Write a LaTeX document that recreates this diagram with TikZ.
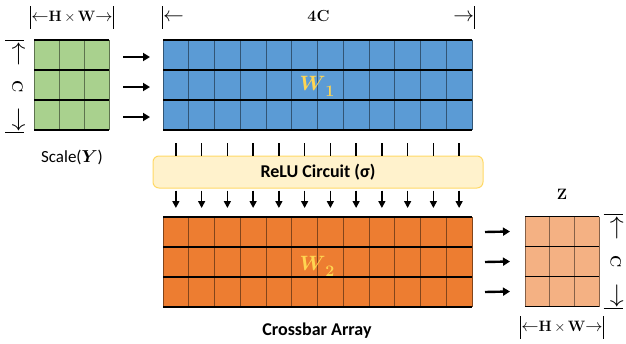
\documentclass[tikz,border=0pt]{standalone}
\usepackage{amsmath, amssymb}
\usepackage{bm}
\usepackage{fontspec}
\newfontfamily\carlito{Carlito}
\usepackage{xcolor}
\definecolor{cellgreen}{HTML}{A9D18E}
\definecolor{cellblue}{HTML}{5B9BD5}
\definecolor{cellorange}{HTML}{ED7D31}
\definecolor{cellsalmon}{HTML}{F4B183}
\definecolor{relufill}{HTML}{FFF2CC}
\definecolor{reluedge}{HTML}{FFD966}
\definecolor{weightgold}{HTML}{FFD551}
\usetikzlibrary{arrows.meta,positioning,calc}
% |<- label ->| spanning a given width, arrows at a given size
\newcommand{\spanlab}[4][23pt]{\makebox[#2]{\rule[-7pt]{1pt}{#1}{\fontsize{#4}{#4}\selectfont$\leftarrow$}\hfill#3\hfill{\fontsize{#4}{#4}\selectfont$\rightarrow$}\rule[-7pt]{1pt}{#1}}}

\begin{document}
\begin{tikzpicture}[x=1pt, y=-1pt,
  every node/.style={inner sep=0pt},
  cells/.style={rectangle, inner sep=0pt, outer sep=0pt, fill=#1, minimum height=90},
  colline/.style={line width=0.8pt},
  rowline/.style={line width=1.3pt, black},
  relubox/.style={rectangle, rounded corners=6pt, draw=reluedge, line width=1pt, fill=relufill, minimum width=330, minimum height=32, font=\carlito\fontsize{18}{20}\selectfont\bfseries},
  tick/.style={line width=1.4pt},
  drop/.style={-{Triangle[length=7pt, width=7pt]}, line width=1.5pt, shorten <=2pt, shorten >=9pt},
  feed/.style={-{Triangle[length=7pt, width=8pt]}, line width=2.4pt},
  dimlab/.style={font=\fontsize{15}{17}\selectfont\bfseries},
  wlab/.style={text=weightgold, font=\fontsize{20}{22}\selectfont},
]
  \useasboundingbox (0,0) rectangle (626,343);

  % cell arrays
  \node[cells=cellgreen, minimum width=75]   (inY)  at (71.5,85)  {};
  \node[cells=cellblue, minimum width=309]   (wone) at (317.5,85) {};
  \node[cells=cellorange, minimum width=309] (wtwo) at (317.5,262) {};
  \node[cells=cellsalmon, minimum width=74]  (outZ) at (562,261.5) {};
  \foreach \g/\n/\c in {inY/3/cellgreen, wone/12/cellblue, wtwo/12/cellorange, outZ/3/cellsalmon} {
    \foreach \k in {0,...,\n}
      \draw[colline, draw=\c!55!black] ($(\g.north west)!\k/\n!(\g.north east)$) -- ($(\g.south west)!\k/\n!(\g.south east)$);
    \foreach \k in {0,...,3}
      \draw[rowline] ($(\g.north west)!\k/3!(\g.south west)$) -- ($(\g.north east)!\k/3!(\g.south east)$);
  }
  \node[wlab] (wonelab) at (317,86)  {$\bm{W}$\raisebox{-6pt}{\fontsize{16}{18}\selectfont\bfseries 1}};
  \node[wlab] (wtwolab) at (317,266) {$\bm{W}$\raisebox{-6pt}{\fontsize{16}{18}\selectfont\bfseries 2}};

  % relu stage
  \node[relubox] (relu) at (318,172) {ReLU Circuit (σ)};
  \foreach \i in {1,...,12} {
    \coordinate (t\i) at ($(wone.south west)!{(\i-0.5)/12}!(wone.south east) + (0,13)$);
    \coordinate (b\i) at (t\i |- relu.south);
    \draw[tick] (t\i) -- (t\i |- relu.north);
    \draw[drop] (b\i) -- (b\i |- wtwo.north);
  }

  % feeds
  \foreach \r in {1,2,3} {
    \draw[feed] ($(inY.north east)!{(\r-0.5)/3}!(inY.south east) + (14,2)$) -- ($(wone.north west)!{(\r-0.5)/3}!(wone.south west) + (-13,2)$);
    \draw[feed] ($(wtwo.north east)!{(\r-0.5)/3}!(wtwo.south east) + (13,0)$) -- ($(outZ.north west)!{(\r-0.5)/3}!(outZ.south west) + (-15,0)$);
  }

  % dimensions and labels
  \node[dimlab] (hwin)  at (72,17)     {\spanlab{79pt}{H$\,\times\,$W}{16}};
  \node[dimlab] (fourc) at (318.5,17)  {\spanlab{313pt}{\fontsize{16}{18}\selectfont 4C}{20.74}};
  \node[dimlab, rotate=-90] (cin)  at (15,86.5)  {\spanlab[19pt]{93pt}{C}{24}};
  \node[dimlab, rotate=-90] (cout) at (613,261.5) {\spanlab[19pt]{95pt}{C}{24}};
  \node[dimlab] (hwout) at (562,327)   {\spanlab{78pt}{H$\,\times\,$W}{16}};
  \node[dimlab] (zlab)  at (562,194)   {Z};
  \node[font=\carlito\fontsize{17}{19}\selectfont] (scalelab) at (72,157) {Scale($\bm{Y}$)};
  \node[font=\carlito\fontsize{18}{20}\selectfont\bfseries] (xbar) at (317,331) {Crossbar Array};
\end{tikzpicture}
\end{document}
